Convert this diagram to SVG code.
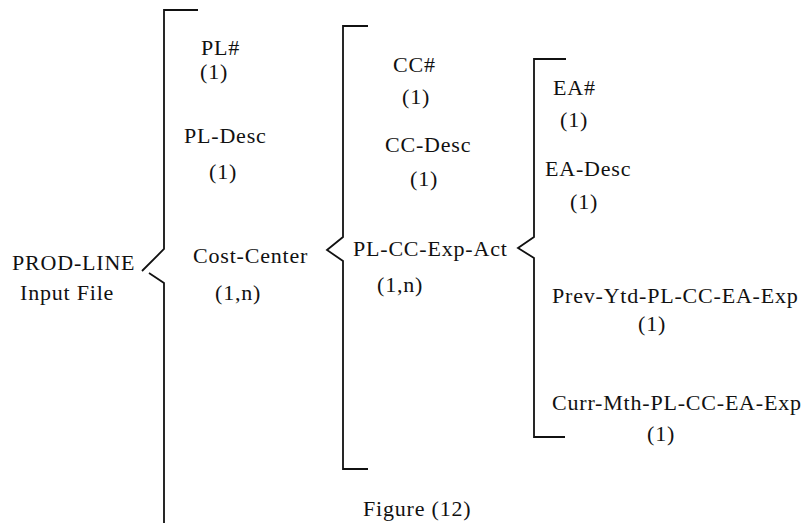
<svg xmlns="http://www.w3.org/2000/svg" width="807" height="523" viewBox="0 0 807 523">
<style>
text{font-family:"Liberation Serif","Times New Roman",serif;font-size:22px;fill:#111;letter-spacing:0.8px}
.br{fill:none;stroke:#111;stroke-width:1.8;stroke-linejoin:miter}
</style>
<rect width="807" height="523" fill="#fff"/>
<g id="connectors">
<path class="br" d="M198,10 H164 V249 L142,271 M149,273 L164,283 V523"/>
<path class="br" d="M368,26 H343 V237 L327,250 L343,261 V469 H368"/>
<path class="br" d="M566,59 H534 V237 L518,248 L534,258 V437 H565"/>
</g>
<g id="prod-line"><text x="12" y="270">PROD-LINE</text><text x="20" y="300">Input File</text></g>
<g id="pl-num"><text x="201" y="55">PL#</text><text x="200" y="79">(1)</text></g>
<g id="pl-desc"><text x="184" y="143">PL-Desc</text><text x="209" y="179">(1)</text></g>
<g id="cost-center"><text x="193" y="263">Cost-Center</text><text x="215" y="300">(1,n)</text></g>
<g id="cc-num"><text x="393" y="72">CC#</text><text x="402" y="104">(1)</text></g>
<g id="cc-desc"><text x="385" y="152">CC-Desc</text><text x="410" y="186">(1)</text></g>
<g id="pl-cc-exp-act"><text x="353" y="256">PL-CC-Exp-Act</text><text x="377" y="292">(1,n)</text></g>
<g id="ea-num"><text x="553" y="95">EA#</text><text x="560" y="127">(1)</text></g>
<g id="ea-desc"><text x="545" y="176">EA-Desc</text><text x="570" y="209">(1)</text></g>
<g id="prev-ytd"><text x="552" y="303">Prev-Ytd-PL-CC-EA-Exp</text><text x="638" y="331">(1)</text></g>
<g id="curr-mth"><text x="552" y="410">Curr-Mth-PL-CC-EA-Exp</text><text x="647" y="441">(1)</text></g>
<g id="caption"><text x="363" y="516">Figure (12)</text></g>
</svg>
